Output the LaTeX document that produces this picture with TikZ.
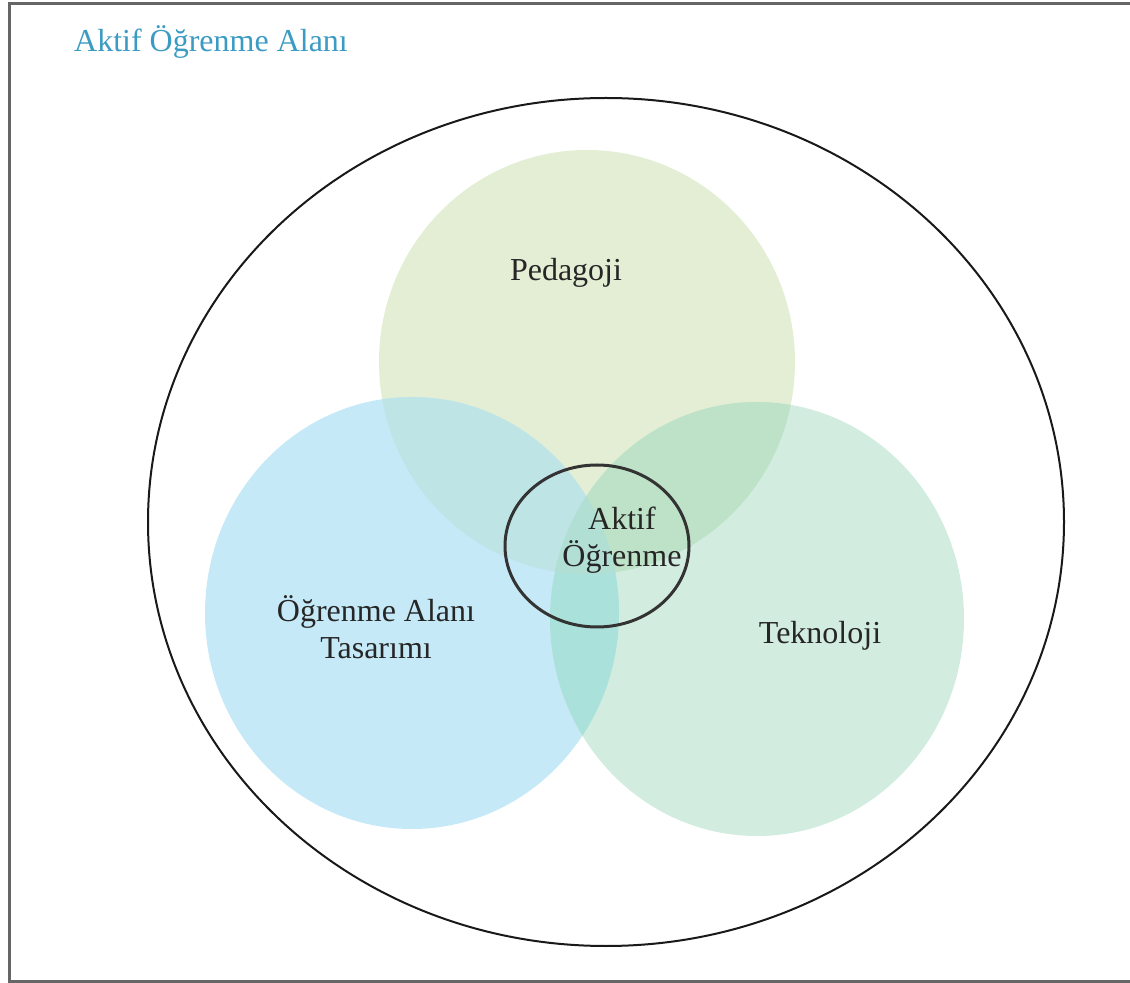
\documentclass[tikz,border=0pt]{standalone}
\usepackage{fontspec}
\setmainfont{Liberation Serif}
\usetikzlibrary{positioning,calc}
\definecolor{titleblue}{RGB}{60,155,195}
\definecolor{pedfill}{RGB}{227,238,212}
\definecolor{ogrfill}{RGB}{197,233,247}
\definecolor{tekfill}{RGB}{210,236,224}
\definecolor{pedogr}{RGB}{190,228,230}
\definecolor{pedtek}{RGB}{190,226,200}
\definecolor{ogrtek}{RGB}{170,225,218}
\definecolor{allthree}{RGB}{178,223,212}

\begin{document}
\begin{tikzpicture}[x=0.5pt, y=-0.5pt,
        venntext/.style={font=\fontsize{16}{18.5}\selectfont, align=center, text=black!85}]
        \useasboundingbox (0,0) rectangle (1130,983);
        \clip (0,0) rectangle (1130,983);
        % Frame
        \draw [line width=1.5pt, black!60] (9,4) rectangle (1145,981);
        % Circles
        \def\pedpath{(587,362) ellipse [x radius=208, y radius=212]}
        \def\ogrpath{(412,613) ellipse [x radius=207, y radius=216]}
        \def\tekpath{(757,619) ellipse [x radius=207, y radius=217]}
        \fill [pedfill] \pedpath;
        \fill [ogrfill] \ogrpath;
        \fill [tekfill] \tekpath;
        % Overlaps
        \begin{scope}
            \clip \pedpath;
            \fill [pedogr] \ogrpath;
            \fill [pedtek] \tekpath;
        \end{scope}
        \begin{scope}
            \clip \ogrpath;
            \fill [ogrtek] \tekpath;
            \clip \pedpath;
            \fill [allthree] \tekpath;
        \end{scope}
        % Outlines
        \draw [line width=1pt, black!90] (606,522) ellipse [x radius=458, y radius=424];
        \draw [line width=1.5pt, black!80] (597,546) ellipse [x radius=92, y radius=81];
        % Labels
        \node [venntext, text=titleblue] (title) at (211,42) {Aktif Öğrenme Alanı};
        \node [venntext] (ped) at (566,273) {Pedagoji};
        \node [venntext] (aktif) at (622,540) {Aktif\\Öğrenme};
        \node [venntext] (ogr) at (376,627) {Öğrenme Alanı\\Tasarımı};
        \node [venntext] (tek) at (820,636) {Teknoloji};
\end{tikzpicture}
\end{document}
